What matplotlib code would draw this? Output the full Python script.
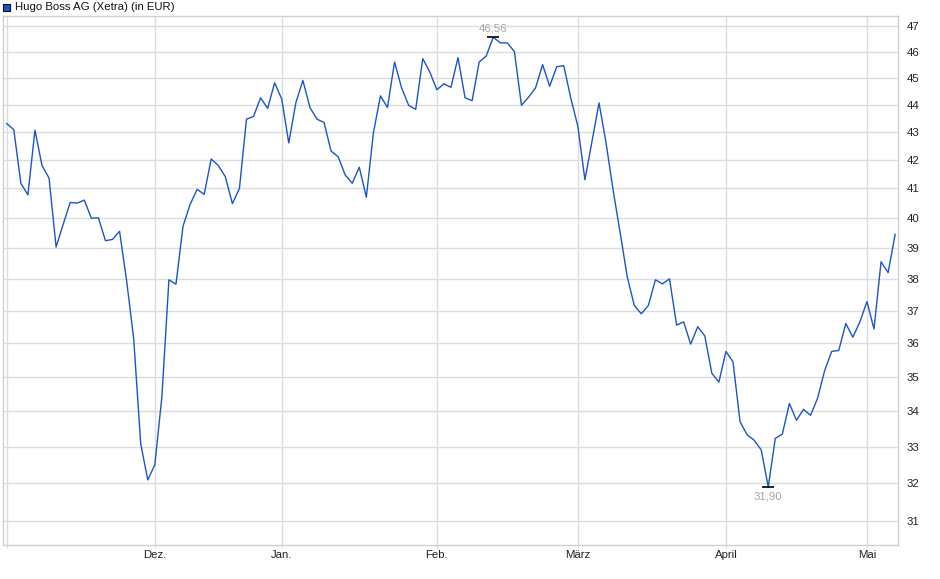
import matplotlib
matplotlib.use('Agg')
import matplotlib.pyplot as plt
from matplotlib.ticker import FixedLocator, NullFormatter, NullLocator
import numpy as np

plt.rcParams['font.family'] = ['Liberation Sans', 'DejaVu Sans']

# daily closes (trading days)
prices = [43.30, 43.08, 41.18, 40.78, 43.06, 41.80, 41.36, 39.03, 39.78, 40.52,
          40.50, 40.60, 39.99, 40.00, 39.24, 39.28, 39.55, 37.94, 36.15, 33.08,
          32.09, 32.50, 34.40, 37.97, 37.83, 39.72, 40.45, 40.97, 40.80, 42.03,
          41.80, 41.41, 40.48, 41.00, 43.46, 43.56, 44.25, 43.86, 44.81, 44.20,
          42.60, 44.06, 44.90, 43.89, 43.46, 43.34, 42.31, 42.11, 41.47, 41.18,
          41.74, 40.70, 42.96, 44.32, 43.89, 45.60, 44.62, 43.97, 43.82, 45.73,
          45.22, 44.55, 44.77, 44.64, 45.77, 44.25, 44.14, 45.60, 45.83, 46.56,
          46.34, 46.34, 46.00, 43.97, 44.27, 44.62, 45.50, 44.68, 45.42, 45.46,
          44.23, 43.20, 41.30, 42.65, 44.06, 42.60, 40.94, 39.50, 38.07, 37.16,
          36.90, 37.16, 37.97, 37.84, 38.00, 36.55, 36.65, 35.97, 36.50, 36.22,
          35.10, 34.84, 35.75, 35.44, 33.70, 33.33, 33.18, 32.91, 31.90, 33.23,
          33.35, 34.22, 33.74, 34.05, 33.88, 34.37, 35.18, 35.75, 35.78, 36.60,
          36.18, 36.65, 37.28, 36.43, 38.55, 38.20, 39.45]

month_labels = ['', 'Dez.', 'Jan.', 'Feb.', 'März', 'April', 'Mai']
month_pos = [0, 21, 39, 61, 81, 102, 122]
y_ticks = [31, 32, 33, 34, 35, 36, 37, 38, 39, 40, 41, 42, 43, 44, 45, 46, 47]

x = np.arange(len(prices))
blue = '#1a56c8'
grid_col = '#dcdcdc'

fig = plt.figure(figsize=(9.4, 5.79), dpi=100)
ax = fig.add_axes([0.0029, 0.0587, 0.9524, 0.9137])

ax.plot(x, prices, color=blue, lw=1.0, zorder=3)

ax.set_yscale('log')
ax.set_ylim(30.38, 47.40)
ax.set_xlim(-0.57, 126.4)

ax.yaxis.set_major_locator(FixedLocator(y_ticks))
ax.yaxis.set_minor_locator(NullLocator())
ax.yaxis.set_minor_formatter(NullFormatter())
ax.set_yticklabels([str(v) for v in y_ticks])
ax.yaxis.tick_right()
ax.set_xticks(month_pos)
ax.set_xticklabels(month_labels)

ax.tick_params(axis='y', length=0, pad=6, labelsize=8.2, colors='#222222')
ax.tick_params(axis='x', length=2, pad=1.5, labelsize=8.2, colors='#222222',
               color=grid_col)
ax.grid(True, color=grid_col, lw=1.0, zorder=0)
for s in ax.spines.values():
    s.set_color('#d0d0d0')
    s.set_linewidth(1.0)

# max / min markers
imax = int(np.argmax(prices))
imin = int(np.argmin(prices))
for i, off, va in [(imax, 2.5, 'bottom'), (imin, -3, 'top')]:
    ax.plot(i, prices[i], marker='_', ms=9, mew=1.2, color='black', zorder=4)
    ax.annotate(('%.2f' % prices[i]).replace('.', ','), (i, prices[i]),
                xytext=(0, off), textcoords='offset points', ha='center',
                va=va, fontsize=8.2, color='#a6a6a6')

# title with legend square
fig.patches.append(plt.Rectangle((3 / 940, 1 - 11 / 579), 7 / 940, 7 / 579,
                                 transform=fig.transFigure, facecolor=blue,
                                 edgecolor='#111111', lw=0.8))
fig.text(15 / 940, 1 - 7 / 579, 'Hugo Boss AG (Xetra) (in EUR)', fontsize=8.2,
         va='center', ha='left', color='#111111')

fig.savefig('out.png', dpi=100)
